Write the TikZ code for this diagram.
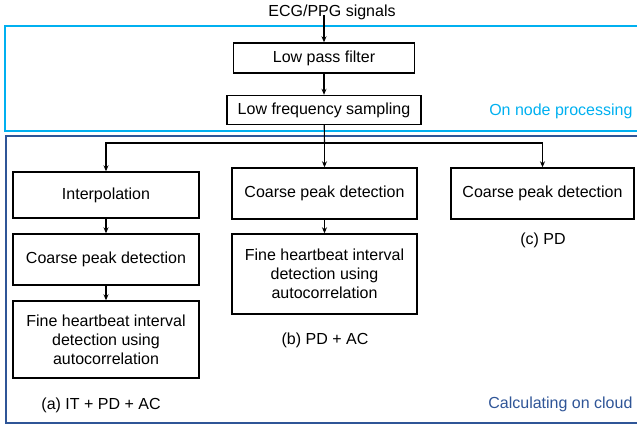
\documentclass[tikz,border=0pt]{standalone}
\usepackage{fontspec}
\setmainfont{Liberation Sans}
\usetikzlibrary{arrows.meta}
\definecolor{nodeblue}{HTML}{00B0F0}
\definecolor{cloudblue}{HTML}{2F5597}
\tikzset{
  stage/.style={draw, line width=1.4pt, align=center, inner sep=2pt, minimum width=185pt},
  caption/.style={inner sep=0pt},
}
\begin{document}
\begin{tikzpicture}[x=1pt, y=-1pt, line width=1.1pt, >={Stealth[length=6pt,width=5pt]},
    font=\fontsize{16}{19}\selectfont]
            \clip (0,0) rectangle (637,428);
            % frames
            \draw[nodeblue, line width=2pt] (5,26) rectangle (645,131);
            \draw[cloudblue, line width=2pt] (6,136) rectangle (645,423);
            \node[caption, nodeblue, anchor=east] (onnode) at (633,111) {On node processing};
            \node[caption, cloudblue, anchor=east] (oncloud) at (633,404) {Calculating on cloud};
            % on node
            \node[caption] (sig) at (332,12) {ECG/PPG signals};
            \coordinate (sigin) at (324,15);
            \node[stage, minimum width=181pt, minimum height=30pt] (lpf) at (324,58) {Low pass filter};
            \node[stage, minimum width=194pt, minimum height=29pt] (lfs) at (324,110) {Low frequency sampling};
            \draw[->] (sigin) -- (lpf);
            \draw[->] (lpf) -- (lfs);
            % (a)
            \node[stage, minimum width=186pt, minimum height=46pt] (interp) at (106,195) {Interpolation};
            \node[stage, minimum width=186pt, minimum height=51pt] (peaka) at (106,259.5) {Coarse peak detection};
            \node[stage, minimum width=186pt, minimum height=77pt] (finea) at (106,339.5) {Fine heartbeat interval\\detection using\\autocorrelation};
            \node[caption] (capa) at (101,405) {(a) IT + PD + AC};
            % (b)
            \node[stage, minimum height=51pt] (peakb) at (324.5,193.5) {Coarse peak detection};
            \node[stage, minimum height=80pt] (fineb) at (324.5,274) {Fine heartbeat interval\\detection using\\autocorrelation};
            \node[caption] (capb) at (325,340) {(b) PD + AC};
            % (c)
            \node[stage, minimum width=183pt, minimum height=51pt] (peakc) at (542.5,193.5) {Coarse peak detection};
            \node[caption] (capc) at (543,240) {(c) PD};
            % branches
            \coordinate (split) at (324.5,143);
            \draw (lfs) -- (split);
            \draw[->] (split) -| (interp);
            \draw[->] (split) -- (peakb);
            \draw[->] (split) -| (peakc);
            \draw[->] (interp) -- (peaka);
            \draw[->] (peaka) -- (finea);
            \draw[->] (peakb) -- (fineb);
        \end{tikzpicture}
\end{document}
